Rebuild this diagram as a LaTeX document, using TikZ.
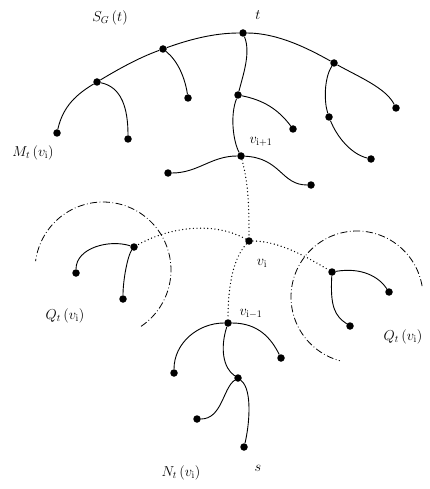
\documentclass[tikz,border=0pt]{standalone}
\begin{document}
\begin{tikzpicture}[x=1pt,y=-1pt,
  dot/.style={circle,fill=black,inner sep=0pt,minimum size=7.5pt},
  edge/.style={line width=0.9pt},
  dotline/.style={line width=1.4pt,line cap=round,dash pattern=on 0pt off 3.6pt},
  region/.style={line width=0.8pt,dash pattern=on 7pt off 2.5pt on 0.8pt off 2.5pt},
  lbl/.style={inner sep=1pt,font=\fontsize{14}{16}\selectfont}]
\useasboundingbox (0,0) rectangle (429,489);
% nodes
\node[dot] (L1) at (57,133) {};
\node[dot] (A) at (97,82) {};
\node[dot] (A2) at (128,139) {};
\node[dot] (B) at (163,49) {};
\node[dot] (B2) at (188,98) {};
\node[dot] (t) at (243,33) {};
\node[dot] (T1) at (238,95) {};
\node[dot] (T1L) at (293,129) {};
\node[dot] (R) at (334,63) {};
\node[dot] (RL) at (396,108) {};
\node[dot] (R2) at (329,117) {};
\node[dot] (R2L) at (371,159) {};
\node[dot] (V1) at (241,156) {};
\node[dot] (V1L) at (168,173) {};
\node[dot] (V1R) at (311,185) {};
\node[dot] (Vi) at (249,241) {};
\node[dot] (QL) at (134,247) {};
\node[dot] (QL1) at (76,273) {};
\node[dot] (QL2) at (123,299) {};
\node[dot] (QR) at (332,272) {};
\node[dot] (QR1) at (389,292) {};
\node[dot] (QR2) at (350,326) {};
\node[dot] (Vm) at (228,323) {};
\node[dot] (VmL) at (174,373) {};
\node[dot] (VmR) at (281,358) {};
\node[dot] (N) at (238,378) {};
\node[dot] (N1) at (197,419) {};
\node[dot] (S) at (244,447) {};
% solid edges
\draw[edge] (L1) .. controls +(6,-27) and +(-20,12) .. (A);
\draw[edge] (A) .. controls +(20,-12) and +(-25,9) .. (B);
\draw[edge] (B) .. controls +(25,-9) and +(-30,0) .. (t);
\draw[edge] (t) .. controls +(35,0) and +(-25,-14) .. (R);
\draw[edge] (R) .. controls +(25,14) and +(-10,-20) .. (RL);
\draw[edge] (A) .. controls +(25,5) and +(0,-30) .. (A2);
\draw[edge] (B) .. controls +(15,12) and +(-3,-20) .. (B2);
\draw[edge] (t) .. controls +(8,20) and +(5,-20) .. (T1);
\draw[edge] (T1) .. controls +(25,5) and +(-15,-20) .. (T1L);
\draw[edge] (T1) .. controls +(-8,20) and +(-8,-15) .. (V1);
\draw[edge] (R) .. controls +(-10,15) and +(-5,-15) .. (R2);
\draw[edge] (R2) .. controls +(8,20) and +(-20,-5) .. (R2L);
\draw[edge] (V1) .. controls +(-30,0) and +(30,0) .. (V1L);
\draw[edge] (V1) .. controls +(40,2) and +(-30,0) .. (V1R);
\draw[edge] (QL) .. controls +(-25,-8) and +(0,-25) .. (QL1);
\draw[edge] (QL) .. controls +(-6,8) and +(0,-20) .. (QL2);
\draw[edge] (QR) .. controls +(30,-5) and +(-10,-15) .. (QR1);
\draw[edge] (QR) .. controls +(-2,35) and +(-15,-10) .. (QR2);
\draw[edge] (Vm) .. controls +(-30,0) and +(0,-30) .. (VmL);
\draw[edge] (Vm) .. controls +(30,0) and +(-10,-20) .. (VmR);
\draw[edge] (Vm) .. controls +(-8,25) and +(-15,-10) .. (N);
\draw[edge] (N) .. controls +(-15,10) and +(25,0) .. (N1);
\draw[edge] (N) .. controls +(15,12) and +(5,-20) .. (S);
% dotted path edges
\draw[dotline] (V1) .. controls +(8,30) and +(0,-30) .. (Vi);
\draw[dotline] (Vi) .. controls +(-35,-20) and +(35,-20) .. (QL);
\draw[dotline] (Vi) .. controls +(30,0) and +(-25,-15) .. (QR);
\draw[dotline] (Vi) .. controls +(-18,20) and +(0,-30) .. (Vm);
% regions
\draw[region] plot[domain=-56:172.5,samples=80,smooth] ({103+68*cos(\x)},{270-68*sin(\x)});
\draw[region] plot[domain=9.5:255,samples=80,smooth] ({357+66*cos(\x)},{297-66*sin(\x)});
% labels
\node[lbl] (lSG) at (110,18) {$S_G\,(t)$};
\node[lbl] (lt) at (258,15) {$t$};
\node[lbl] (lM) at (33,153) {$M_t\,(v_{\mathrm i})$};
\node[lbl] (lV1) at (261,142) {$v_{\mathrm{i+1}}$};
\node[lbl] (lVi) at (262,263) {$v_{\mathrm i}$};
\node[lbl] (lVm) at (251,314) {$v_{\mathrm{i-1}}$};
\node[lbl] (lQL) at (65,316) {$Q_t\,(v_{\mathrm i})$};
\node[lbl] (lQR) at (403,337) {$Q_t\,(v_{\mathrm i})$};
\node[lbl] (lN) at (181,473) {$N_t\,(v_{\mathrm i})$};
\node[lbl] (ls) at (258,468) {$s$};
\end{tikzpicture}
\end{document}
